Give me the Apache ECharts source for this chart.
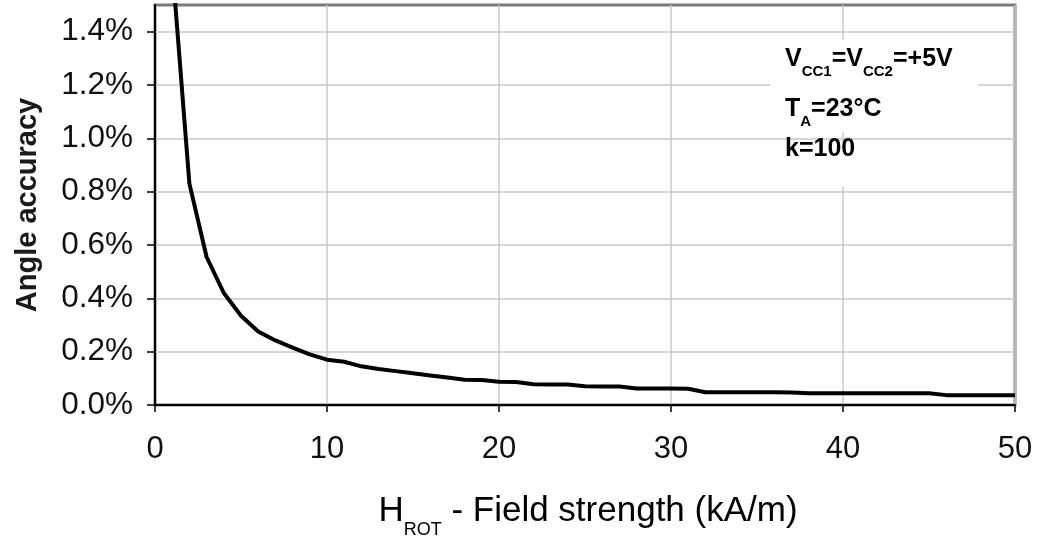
<!DOCTYPE html>
<html>
<head>
<meta charset="utf-8">
<script src="https://cdn.jsdelivr.net/npm/echarts@6/dist/echarts.min.js"></script>
<style>
  html, body { margin: 0; padding: 0; background: #fff; }
  #chart { width: 1037px; height: 540px; }
</style>
</head>
<body>
<div id="chart"></div>
<script>
// Field strength H_ROT (kA/m)
const fieldStrength = [1, 2, 3, 4, 5, 6, 7, 8, 9, 10,
  11, 12, 13, 14, 15, 16, 17, 18, 19, 20,
  21, 22, 23, 24, 25, 26, 27, 28, 29, 30,
  31, 32, 33, 34, 35, 36, 37, 38, 39, 40,
  41, 42, 43, 44, 45, 46, 47, 48, 49, 50];
// Angle accuracy (%)
const angleAccuracy = [1.65, 0.83, 0.555, 0.42, 0.335, 0.276, 0.242, 0.215, 0.19, 0.170,
  0.162, 0.145, 0.135, 0.127, 0.119, 0.111, 0.103, 0.095, 0.094, 0.087,
  0.086, 0.078, 0.077, 0.077, 0.070, 0.069, 0.069, 0.062, 0.062, 0.062,
  0.061, 0.048, 0.048, 0.048, 0.048, 0.048, 0.047, 0.044, 0.044, 0.044,
  0.044, 0.044, 0.044, 0.044, 0.044, 0.037, 0.037, 0.037, 0.037, 0.037];
const xTicks = [0, 10, 20, 30, 40, 50];
const yTicks = [0, 0.2, 0.4, 0.6, 0.8, 1.0, 1.2, 1.4];
const yAxisTitle = 'Angle accuracy';
const xAxisTitleMain = 'H';
const xAxisTitleSub = 'ROT';
const xAxisTitleRest = ' - Field strength (kA/m)';
const noteLines = [
  ['V', 'CC1', '=V', 'CC2', '=+5V'],
  ['T', 'A', '=23°C'],
  ['k=100']
];

const FONT = '"Liberation Sans", Arial, Helvetica, sans-serif';
const chart = echarts.init(document.getElementById('chart'), null, { renderer: 'canvas' });

const pairs = fieldStrength.map((x, i) => [x, angleAccuracy[i]]);

const noteRich = {
  m: { fontSize: 25, fontWeight: 'bold', fontFamily: FONT, color: '#1a1a1a', lineHeight: 40 },
  s: { fontSize: 15, fontWeight: 'bold', fontFamily: FONT, color: '#1a1a1a', lineHeight: 14, verticalAlign: 'bottom' }
};
function noteText(parts) {
  return parts.map((p, i) => (i % 2 === 0 ? '{m|' : '{s|') + p + '}').join('');
}

chart.setOption({
  animation: false,
  backgroundColor: '#fff',
  grid: {
    left: 155, right: 22, top: 5, bottom: 135,
    show: true, borderColor: '#7a7a7a', borderWidth: 3, backgroundColor: 'transparent'
  },
  xAxis: {
    type: 'value', min: 0, max: 50, interval: 10,
    axisLine: { show: true, onZero: false, lineStyle: { color: '#000', width: 2 } },
    axisTick: { show: true, length: 7, inside: false, lineStyle: { color: '#000', width: 1.5 }, customValues: xTicks },
    axisLabel: { margin: 29, fontSize: 31, fontFamily: FONT, color: '#111', customValues: xTicks },
    splitLine: { show: true, lineStyle: { color: '#c8c8c8', width: 1.5 } }
  },
  yAxis: {
    type: 'value', min: 0, max: 1.5, interval: 0.2,
    name: yAxisTitle, nameLocation: 'middle', nameRotate: 90, nameGap: 113,
    nameTextStyle: { fontSize: 29, fontWeight: 'bold', fontFamily: FONT, color: '#1a1a1a' },
    axisLine: { show: true, onZero: false, lineStyle: { color: '#000', width: 2 } },
    axisTick: { show: true, length: 8, inside: false, lineStyle: { color: '#000', width: 1.5 }, customValues: yTicks },
    axisLabel: {
      margin: 22, fontSize: 31.5, fontFamily: FONT, color: '#111', customValues: yTicks,
      formatter: v => v.toFixed(1) + '%'
    },
    splitLine: { show: true, lineStyle: { color: '#c8c8c8', width: 1.5 } }
  },
  graphic: [
    { type: 'rect', z: 1, shape: { x: 770, y: 40, width: 208, height: 92 }, style: { fill: '#fff' }, silent: true },
    { type: 'rect', z: 1, shape: { x: 770, y: 143, width: 208, height: 44 }, style: { fill: '#fff' }, silent: true },
    {
      type: 'text', z: 100, x: 785, y: 39,
      style: { text: noteText(noteLines[0]), rich: noteRich, align: 'left', verticalAlign: 'top' }
    },
    {
      type: 'text', z: 100, x: 785, y: 89,
      style: { text: noteText(noteLines[1]), rich: noteRich, align: 'left', verticalAlign: 'top' }
    },
    {
      type: 'text', z: 100, x: 785, y: 129,
      style: { text: noteText(noteLines[2]), rich: noteRich, align: 'left', verticalAlign: 'top' }
    },
    {
      type: 'text', z: 100, x: 588, y: 483,
      style: {
        text: '{m|' + xAxisTitleMain + '}{s|' + xAxisTitleSub + '}{m|' + xAxisTitleRest + '}',
        align: 'center', verticalAlign: 'top',
        rich: {
          m: { fontSize: 35, fontFamily: FONT, color: '#111', lineHeight: 56 },
          s: { fontSize: 18, fontFamily: FONT, color: '#111', lineHeight: 18, verticalAlign: 'bottom' }
        }
      }
    }
  ],
  series: [{
    type: 'line',
    data: pairs,
    showSymbol: false,
    symbol: 'none',
    smooth: false,
    clip: true,
    z: 5,
    lineStyle: { color: '#000', width: 4, join: 'round' }
  }]
});
</script>
</body>
</html>
